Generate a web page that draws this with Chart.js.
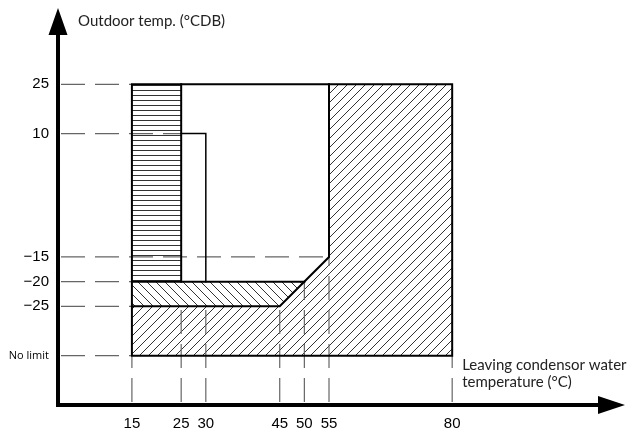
<!DOCTYPE html>
<html>
<head>
<meta charset="utf-8">
<script src="https://cdn.jsdelivr.net/npm/chart.js@4.4.1/dist/chart.umd.min.js"></script>
<style>
  html, body { margin: 0; padding: 0; background: #fff; }
  #wrap { width: 628px; height: 428px; }
</style>
</head>
<body>
<div id="wrap"><canvas id="chart" width="628" height="428"></canvas></div>
<script>
// water temp ticks (°C) and how high each vertical guide reaches
const xTicks = [15, 25, 30, 45, 50, 55, 80];
const xGuideTop = [-35, -25, -25, -25, -20, -15, -35];

// outdoor axis is schematic (not to scale above 10), labels sit on these positions
const yTickLabels = ['25', '10', '−15', '−20', '−25', 'No limit'];
const yTickPos = [20, 10, -15, -20, -25, -35];
const yGuideEnd = [15, 25, 55, 15, 15, 15];

const yTitle = 'Outdoor temp. (°CDB)';
const xTitle = ['Leaving condensor water', 'temperature (°C)'];

// hatched zones, [water temp, outdoor position]
const horizZone = [[15, -20], [15, 20], [25, 20], [25, -20]];
const backZone = [[15, -25], [15, -20], [50, -20], [45, -25]];
const slashZone = [[15, -35], [15, -25], [45, -25], [55, -15], [55, 20], [80, 20], [80, -35]];

// boundary lines
const frameLine = [[15, -35], [15, 20], [80, 20], [80, -35], [15, -35]];
const stepLine = [[15, -25], [45, -25], [55, -15], [55, 20]];
const midLine = [[15, -20], [50, -20]];
const leftLine = [[25, 20], [25, -20]];
const innerLine = [[25, 10], [30, 10], [30, -20]];

const canvas = document.getElementById('chart');

function hatch(kind) {
    const s = kind === 'h' ? 5 : 9;
    const c = document.createElement('canvas');
    c.width = s;
    c.height = s;
    const g = c.getContext('2d');
    g.strokeStyle = '#333';
    g.lineWidth = 1;
    g.beginPath();
    if (kind === 'h') {
        g.moveTo(0, 0.5); g.lineTo(s, 0.5);
    } else if (kind === '/') {
        g.moveTo(-1, s + 1); g.lineTo(s + 1, -1);
        g.moveTo(-1, 1); g.lineTo(1, -1);
        g.moveTo(s - 1, s + 1); g.lineTo(s + 1, s - 1);
    } else {
        g.moveTo(-1, -1); g.lineTo(s + 1, s + 1);
        g.moveTo(s - 1, -1); g.lineTo(s + 1, 1);
        g.moveTo(-1, s - 1); g.lineTo(1, s + 1);
    }
    g.stroke();
    return canvas.getContext('2d').createPattern(c, 'repeat');
}

const pts = arr => arr.map(p => ({ x: p[0], y: p[1] }));

function zone(arr, pattern) {
    return {
        data: pts(arr.concat([arr[0]])),
        fill: 'shape',
        backgroundColor: pattern,
        borderColor: 'rgba(0,0,0,0)',
        borderWidth: 1,
        pointRadius: 0,
        order: 3
    };
}

function edge(arr, w) {
    return {
        data: pts(arr),
        fill: false,
        borderColor: '#000',
        borderWidth: w,
        borderCapStyle: 'square',
        borderJoinStyle: 'miter',
        pointRadius: 0,
        order: 1
    };
}

function guide(arr) {
    return {
        data: pts(arr),
        fill: false,
        borderColor: '#666',
        borderWidth: 1.2,
        borderDash: [24, 10],
        borderDashOffset: 31,
        pointRadius: 0,
        order: 2
    };
}

const datasets = [
    zone(slashZone, hatch('/')),
    zone(backZone, hatch('\\')),
    zone(horizZone, hatch('h'))
];
yTickPos.forEach((v, i) => datasets.push(guide([[0, v], [yGuideEnd[i], v]])));
xTicks.forEach((v, i) => datasets.push(guide([[v, -45], [v, xGuideTop[i]]])));
datasets.push(edge(frameLine, 2), edge(stepLine, 2), edge(midLine, 2), edge(leftLine, 2), edge(innerLine, 1.5));

const numFont = { family: 'Liberation Sans', size: 15 };

const decor = {
    id: 'decor',
    afterDraw(chart) {
        const { ctx, chartArea: a, scales: { x, y } } = chart;
        const ox = x.getPixelForValue(0);
        const oy = y.getPixelForValue(-45);
        ctx.save();
        ctx.fillStyle = '#000';
        ctx.beginPath();
        // arrow heads
        ctx.moveTo(ox, a.top - 22);
        ctx.lineTo(ox - 9.5, a.top + 5);
        ctx.lineTo(ox + 9.5, a.top + 5);
        ctx.closePath();
        ctx.moveTo(a.right + 25, oy);
        ctx.lineTo(a.right - 2, oy - 9);
        ctx.lineTo(a.right - 2, oy + 9);
        ctx.closePath();
        ctx.fill();
        ctx.fillRect(ox - 2, oy - 2, 4, 4);

        ctx.fillStyle = '#222';
        ctx.font = '15px Lato';
        ctx.textAlign = 'left';
        ctx.textBaseline = 'middle';
        ctx.fillText(yTitle, ox + 20, a.top - 8.5);
        const tx = x.getPixelForValue(80) + 10;
        const ty = y.getPixelForValue(-35);
        ctx.fillText(xTitle[0], tx, ty + 9.5);
        ctx.fillText(xTitle[1], tx, ty + 26.5);
        ctx.restore();
    }
};

new Chart(canvas, {
    type: 'line',
    data: { datasets: datasets },
    options: {
        responsive: false,
        animation: false,
        layout: { padding: { top: 30, right: 28, left: 0, bottom: 0 } },
        plugins: {
            legend: { display: false },
            tooltip: { enabled: false }
        },
        elements: { line: { tension: 0 } },
        scales: {
            x: {
                type: 'linear',
                min: 0,
                max: 110,
                afterBuildTicks: s => { s.ticks = xTicks.map(v => ({ value: v })); },
                afterFit: s => { s.height = 23; },
                grid: { display: false, drawTicks: false, tickLength: 0 },
                border: { display: true, color: '#000', width: 4 },
                ticks: { autoSkip: false, maxRotation: 0, minRotation: 0, padding: 10, color: '#000', font: numFont }
            },
            y: {
                type: 'linear',
                min: -45,
                max: 31,
                afterBuildTicks: s => { s.ticks = yTickPos.map(v => ({ value: v })); },
                afterFit: s => { s.width = 58; },
                grid: { display: false, drawTicks: false, tickLength: 0 },
                border: { display: true, color: '#000', width: 4 },
                ticks: {
                    autoSkip: false,
                    padding: 9,
                    color: '#000',
                    callback: (v, i) => yTickLabels[i],
                    font: c => (yTickLabels[c.index] === 'No limit' ? { family: 'Open Sans', size: 11 } : numFont)
                }
            }
        }
    },
    plugins: [decor]
});
</script>
</body>
</html>
